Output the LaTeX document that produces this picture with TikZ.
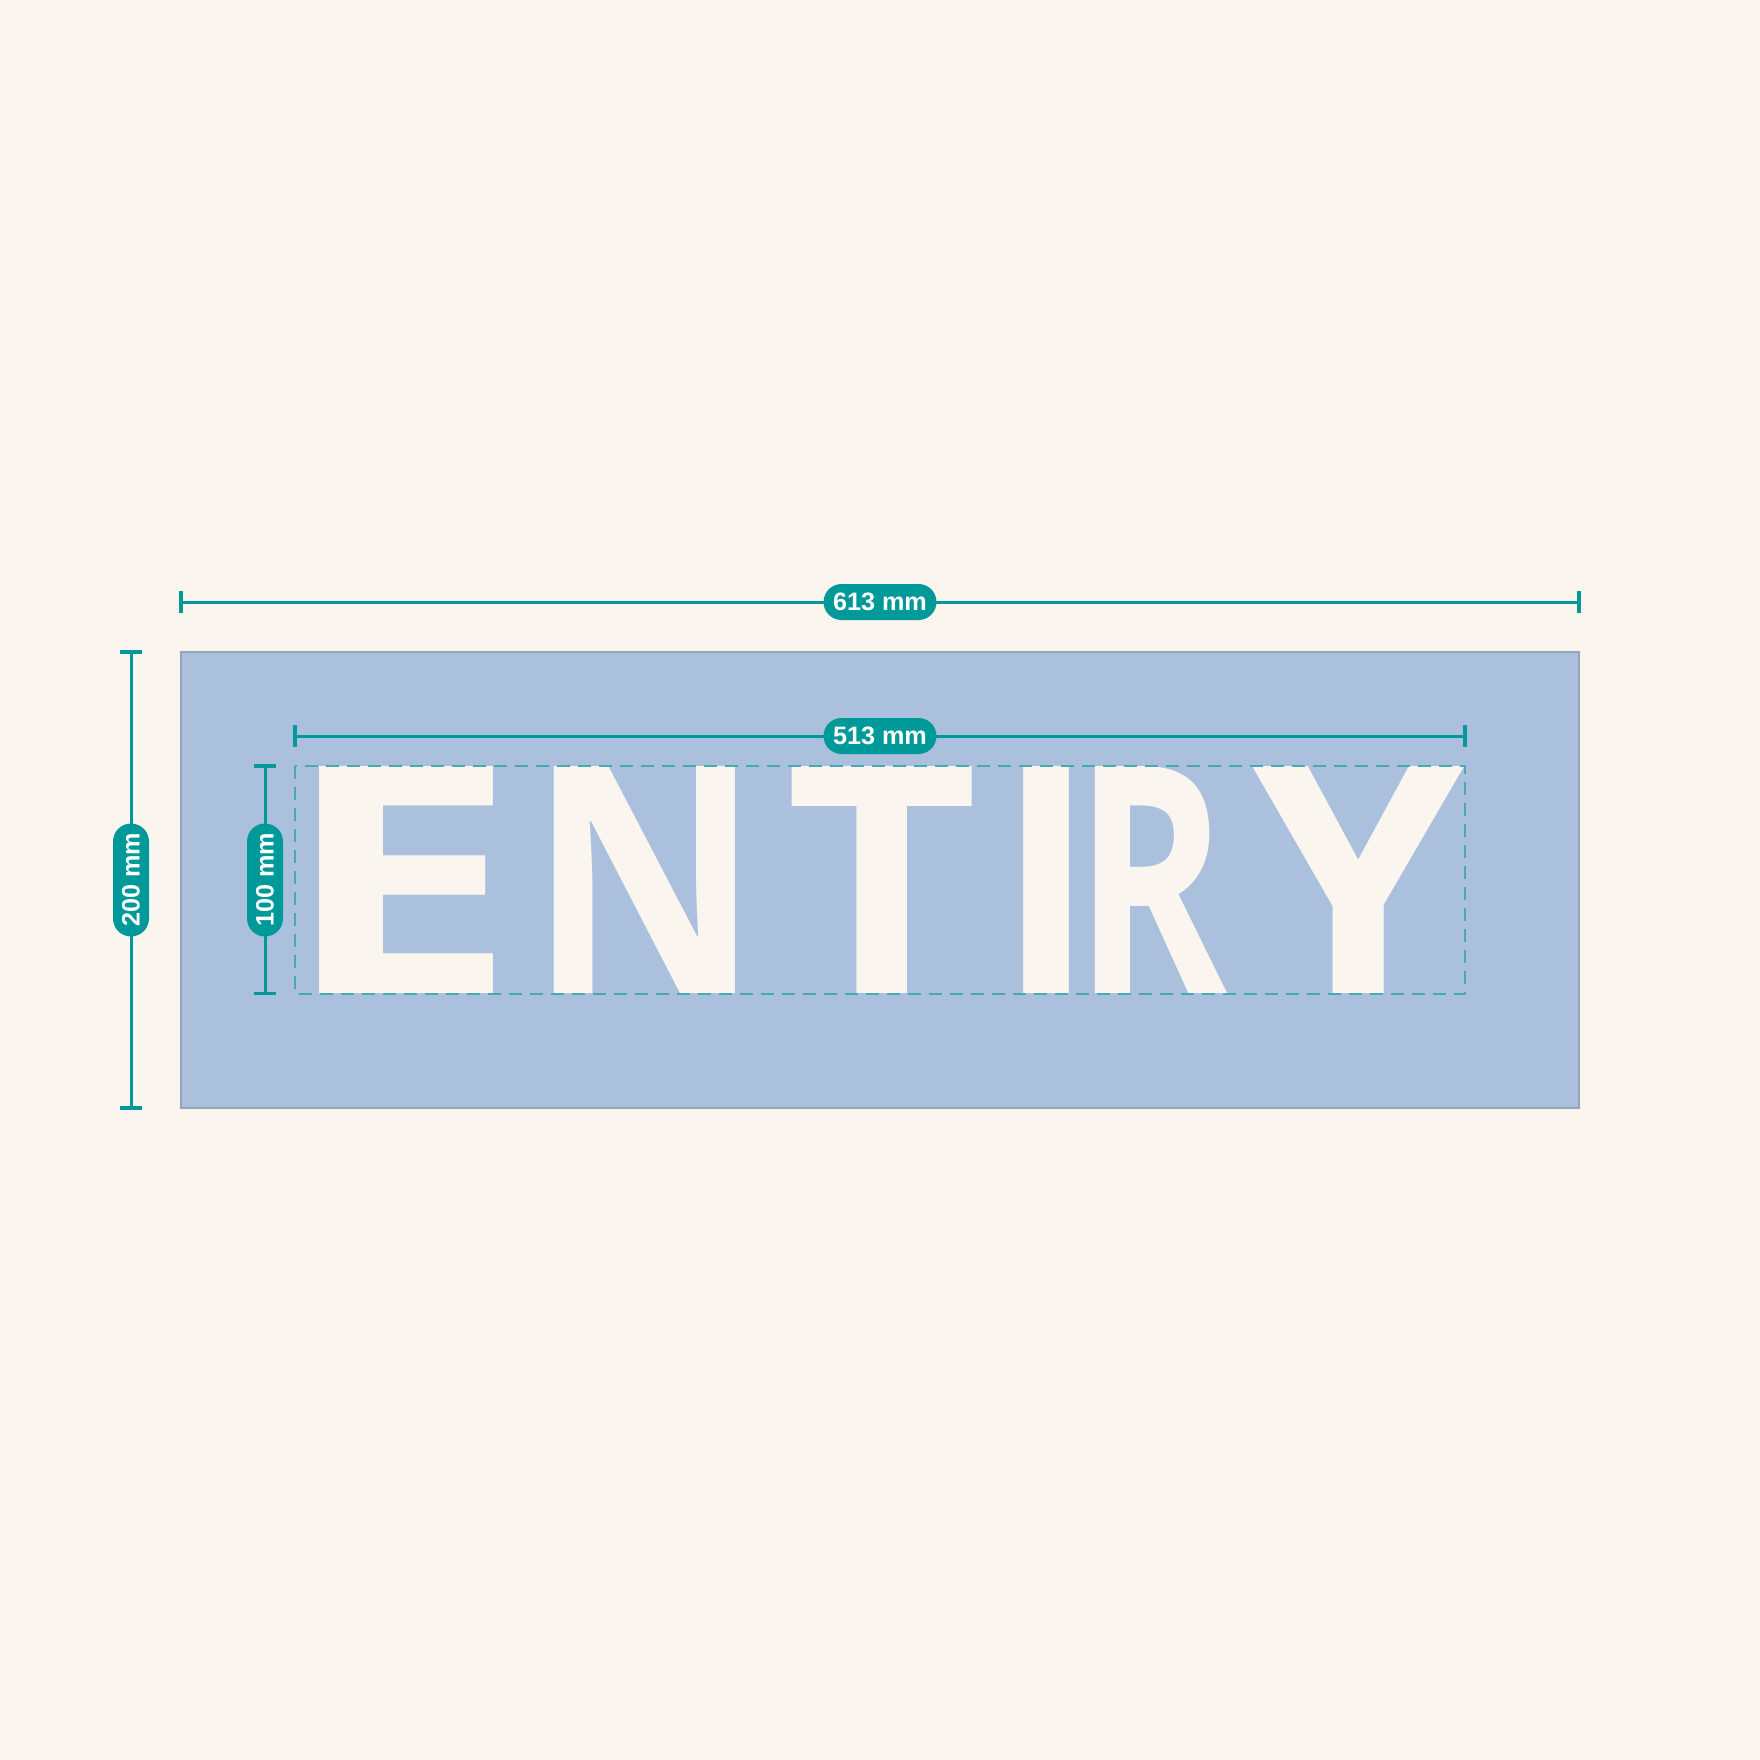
\documentclass[tikz,border=0pt]{standalone}
\usepackage{fontspec}
\setmainfont{Liberation Sans}
\newfontfamily\signfont{Open Sans}
\definecolor{creme}{RGB}{250,246,239}
\definecolor{petrol}{RGB}{0,153,153}
\definecolor{plaque}{RGB}{170,192,220}
\definecolor{plaqueline}{RGB}{150,166,186}
\definecolor{dashline}{RGB}{70,170,180}
\tikzset{
  dimline/.style={petrol, line width=1.5pt},
  dimtick/.style={petrol, line width=1.6pt},
  dimlabel/.style={fill=petrol, text=white, font=\bfseries\fontsize{12.6}{14}\selectfont,
    rounded corners=9pt, minimum width=56.5pt, minimum height=18pt, inner sep=0pt},
  letter/.style={text=creme, font=\signfont\bfseries\fontsize{159}{160}\selectfont,
    inner sep=0pt, anchor=base},
}

\begin{document}
\begin{tikzpicture}[x=0.5pt,y=-0.5pt]
\fill [creme] (0,0) rectangle (1760,1760);
\useasboundingbox (0,0) rectangle (1760,1760);

% plaque
\draw [fill=plaque, draw=plaqueline, line width=0.75pt] (181,652) rectangle (1579,1108);

% letters, widths fitted one by one
\foreach \ch/\cx/\sx in {E/400/1.33,N/644.5/0.90,T/882.5/1.05,I/1046/0.95,R/1151/0.73,Y/1359/1.07}
  \node [letter] (l\ch) at (\cx,993.5) {\scalebox{\sx}[1]{\ch}};

% letter box
\draw [dashline, line width=1pt, dash pattern=on 6.5pt off 4pt] (295,766) rectangle (1465,993.5);

% 613 mm
\coordinate (wa) at (181,602);
\coordinate (wb) at (1579,602);
\draw [dimline] (wa) -- (wb);
\draw [dimtick] (wa) ++(0,-11) -- ++(0,22);
\draw [dimtick] (wb) ++(0,-11) -- ++(0,22);
\node [dimlabel] (w613) at (880,602) {613 mm};

% 513 mm
\coordinate (wc) at (295,736);
\coordinate (wd) at (1465,736);
\draw [dimline] (wc) -- (wd);
\draw [dimtick] (wc) ++(0,-11) -- ++(0,22);
\draw [dimtick] (wd) ++(0,-11) -- ++(0,22);
\node [dimlabel] (w513) at (880,736) {513 mm};

% 200 mm
\coordinate (ha) at (131,652);
\coordinate (hb) at (131,1108);
\draw [dimline] (ha) -- (hb);
\draw [dimtick] (ha) ++(-11,0) -- ++(22,0);
\draw [dimtick] (hb) ++(-11,0) -- ++(22,0);
\node [dimlabel, rotate=90] (h200) at (131,880) {200 mm};

% 100 mm
\coordinate (hc) at (265,766);
\coordinate (hd) at (265,993.5);
\draw [dimline] (hc) -- (hd);
\draw [dimtick] (hc) ++(-11,0) -- ++(22,0);
\draw [dimtick] (hd) ++(-11,0) -- ++(22,0);
\node [dimlabel, rotate=90] (h100) at (265,880) {100 mm};

\end{tikzpicture}
\end{document}
